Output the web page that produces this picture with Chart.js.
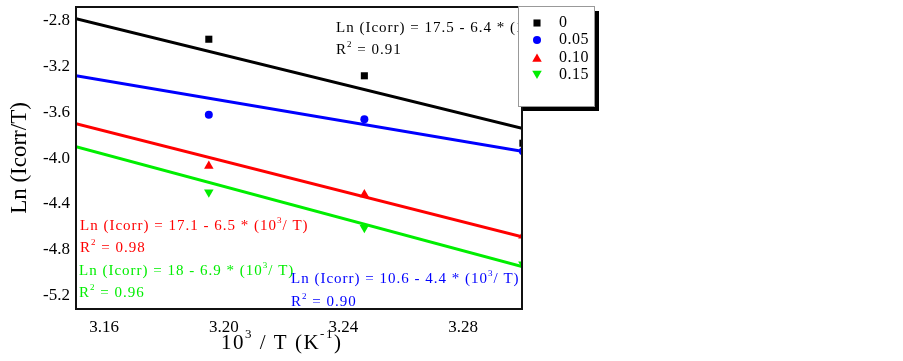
<!DOCTYPE html>
<html>
<head>
<meta charset="utf-8">
<script src="https://cdn.jsdelivr.net/npm/chart.js@4.4.1/dist/chart.umd.min.js"></script>
<style>
  html, body { margin: 0; padding: 0; background: #fff; }
  #wrap { width: 903px; height: 361px; }
</style>
</head>
<body>
<div id="wrap"><canvas id="c" width="903" height="361"></canvas></div>
<script>
// 10^3/T values (T = 313, 308, 303 K)
const invT = [3.195, 3.247, 3.300];
const ln0 = [-2.96, -3.28, -3.87];
const ln005 = [-3.62, -3.66, -3.94];
const ln010 = [-4.07, -4.32, -4.68];
const ln015 = [-4.30, -4.61, -4.93];

// fitted lines, read at the two edges of the plot
const fitX = [3.1506, 3.2997];
const fit0 = [-2.78, -3.74];
const fit005 = [-3.28, -3.94];
const fit010 = [-3.70, -4.69];
const fit015 = [-3.90, -4.95];

const xTicks = [3.16, 3.20, 3.24, 3.28];
const yTicks = [-2.8, -3.2, -3.6, -4.0, -4.4, -4.8, -5.2];

const legendLabels = ['0', '0.05', '0.10', '0.15'];
const colors = ['#000000', '#0000ff', '#ff0000', '#00ee00'];
const styles = ['rect', 'circle', 'triangle', 'triangle'];
const rots = [0, 0, 0, 180];
const radii = [5, 4, 5.5, 5.5];

const SERIF = '"Liberation Serif", "Times New Roman", serif';

const pts = (xs, ys) => xs.map((x, i) => ({ x: x, y: ys[i] }));
const series = [ln0, ln005, ln010, ln015];
const fits = [fit0, fit005, fit010, fit015];

const datasets = [];
fits.forEach((f, i) => {
  datasets.push({
    data: pts(fitX, f), showLine: true, borderColor: colors[i], borderWidth: 3,
    pointRadius: 0, clip: 0
  });
});
series.forEach((s, i) => {
  datasets.push({
    data: pts(invT, s), showLine: false, pointStyle: styles[i], rotation: rots[i],
    pointRadius: radii[i], backgroundColor: colors[i], borderColor: colors[i],
    borderWidth: 0, clip: 0
  });
});

// equation labels: [text, superscript?]
const notes = [
  { color: colors[0], x: 336, y: 28, parts: [['Ln (Icorr) = 17.5 - 6.4 * (10'], ['3', 1], ['/ T)']] },
  { color: colors[0], x: 336, y: 50, parts: [['R'], ['2', 1], [' = 0.91']] },
  { color: colors[2], x: 80, y: 226, parts: [['Ln (Icorr) = 17.1 - 6.5 * (10'], ['3', 1], ['/ T)']] },
  { color: colors[2], x: 80, y: 248, parts: [['R'], ['2', 1], [' = 0.98']] },
  { color: colors[3], x: 79, y: 271, parts: [['Ln (Icorr) = 18 - 6.9 * (10'], ['3', 1], ['/ T)']] },
  { color: colors[3], x: 79, y: 293, parts: [['R'], ['2', 1], [' = 0.96']] },
  { color: colors[1], x: 291, y: 279, parts: [['Ln (Icorr) = 10.6 - 4.4 * (10'], ['3', 1], ['/ T)']] },
  { color: colors[1], x: 291, y: 302, parts: [['R'], ['2', 1], [' = 0.90']] }
];

function drawRich(ctx, parts, x, y, size, spacing) {
  ctx.textBaseline = 'middle';
  ctx.textAlign = 'left';
  parts.forEach(p => {
    const sup = p[1];
    ctx.font = (sup ? Math.round(size * 0.62) : size) + 'px ' + SERIF;
    ctx.letterSpacing = spacing + 'px';
    ctx.fillText(p[0], x, sup ? y - size * 0.38 : y);
    x += ctx.measureText(p[0]).width;
  });
  ctx.letterSpacing = '0px';
}

const decor = {
  id: 'decor',
  afterDatasetsDraw(chart) {
    const ctx = chart.ctx;
    const a = chart.chartArea;
    ctx.save();
    // frame
    ctx.strokeStyle = '#111';
    ctx.lineWidth = 2;
    ctx.strokeRect(a.left, a.top, a.right - a.left, a.bottom - a.top);

    notes.forEach(n => {
      ctx.fillStyle = n.color;
      drawRich(ctx, n.parts, n.x, n.y, 15, 1);
    });

    // legend with drop shadow
    const lx = 518, ly = 6, lw = 76, lh = 100;
    ctx.fillStyle = '#000';
    ctx.fillRect(lx + 5, ly + 5, lw, lh);
    ctx.fillStyle = '#fff';
    ctx.fillRect(lx, ly, lw, lh);
    ctx.strokeStyle = '#999';
    ctx.lineWidth = 1;
    ctx.strokeRect(lx + 0.5, ly + 0.5, lw, lh);
    const rowY = [23, 40, 57.5, 75];
    legendLabels.forEach((lab, i) => {
      ctx.fillStyle = colors[i];
      ctx.strokeStyle = colors[i];
      const dy = i === 2 ? 1.5 : (i === 3 ? -1.5 : 0);
      Chart.helpers.drawPoint(ctx, { pointStyle: styles[i], rotation: rots[i], borderWidth: 0, radius: radii[i] }, 537, rowY[i] + dy);
      ctx.fillStyle = '#000';
      ctx.font = '16px ' + SERIF;
      ctx.letterSpacing = '0.5px';
      ctx.textAlign = 'left';
      ctx.textBaseline = 'middle';
      ctx.fillText(lab, 559, rowY[i]);
      ctx.letterSpacing = '0px';
    });

    // axis titles
    ctx.fillStyle = '#000';
    drawRich(ctx, [['10'], ['3', 1], [' / T (K'], ['-1', 1], [')']], 221, 343, 21, 1.5);
    ctx.translate(20, 158);
    ctx.rotate(-Math.PI / 2);
    ctx.font = '23px ' + SERIF;
    ctx.textAlign = 'center';
    ctx.textBaseline = 'middle';
    ctx.fillText('Ln (Icorr/T)', 0, 0);
    ctx.restore();
  }
};

new Chart(document.getElementById('c'), {
  type: 'scatter',
  data: { datasets: datasets },
  plugins: [decor],
  options: {
    responsive: false,
    animation: false,
    devicePixelRatio: 1,
    layout: { padding: { top: 7, right: 381, left: 0, bottom: 0 } },
    plugins: { legend: { display: false }, tooltip: { enabled: false } },
    scales: {
      x: {
        type: 'linear', min: 3.1506, max: 3.2997,
        grid: { display: false, drawTicks: false },
        border: { display: false },
        afterFit(s) { s.height = 52; s.paddingLeft = 0; s.paddingRight = 0; },
        afterBuildTicks(s) { s.ticks = xTicks.map(v => ({ value: v })); },
        ticks: {
          color: '#000', padding: 8, font: { family: SERIF, size: 17 },
          maxRotation: 0, callback: v => v.toFixed(2)
        }
      },
      y: {
        type: 'linear', min: -5.321, max: -2.678,
        grid: { display: false, drawTicks: false },
        border: { display: false },
        afterFit(s) { s.width = 76; s.paddingTop = 0; s.paddingBottom = 0; },
        afterBuildTicks(s) { s.ticks = yTicks.map(v => ({ value: v })); },
        ticks: {
          color: '#000', padding: 6, font: { family: SERIF, size: 17 },
          callback: v => v.toFixed(1)
        }
      }
    }
  }
});
</script>
</body>
</html>
